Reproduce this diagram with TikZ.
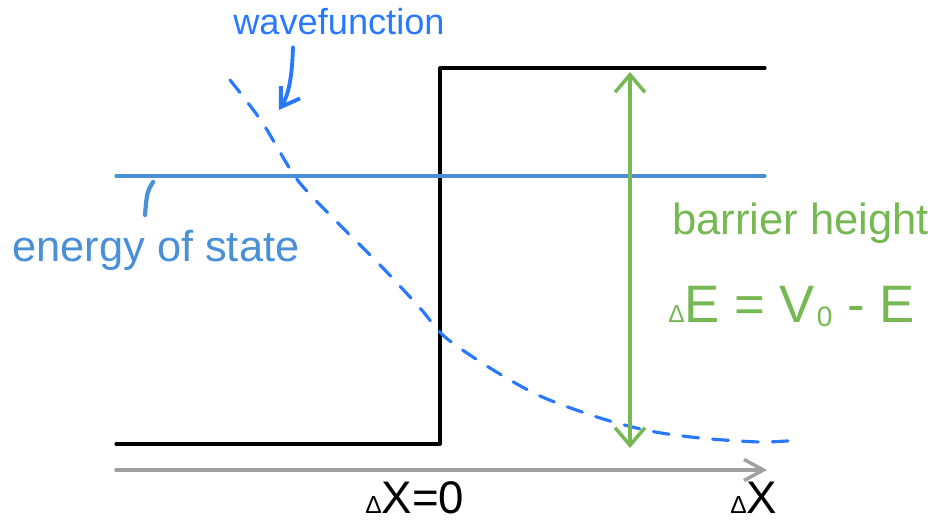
\documentclass[tikz,border=0pt]{standalone}
\usepackage{fontspec}
\setmainfont{Liberation Sans}
\usetikzlibrary{arrows.meta}
\definecolor{statecol}{RGB}{74,144,217}
\definecolor{wavecol}{RGB}{41,121,255}
\definecolor{barriercol}{RGB}{118,184,82}
\definecolor{axiscol}{RGB}{160,160,160}
\begin{document}
\begin{tikzpicture}[x=0.02cm,y=-0.02cm,line cap=round,line join=round,
  thick line/.style={line width=1.8pt},
  lbl/.style={inner sep=0pt,anchor=base west}]
  \useasboundingbox (0,0) rectangle (933,526);
  % potencial: escalon
  \coordinate (L) at (116,444);
  \coordinate (S) at (440,444);
  \coordinate (T) at (440,68);
  \coordinate (R) at (765,68);
  \draw[thick line] (L)--(S)--(T)--(R);
  % nivel de energia del estado
  \coordinate (E1) at (116,176);
  \coordinate (E2) at (765,176);
  \draw[statecol,thick line] (E1)--(E2);
  \node[lbl,statecol,font=\fontsize{24.7}{28}\selectfont] (state) at (12,262) {energy of state};
  \coordinate (s1) at (153,182);
  \coordinate (s2) at (145,215);
  \draw[statecol,line width=2.4pt] (s1) .. controls (147,192) .. (s2);
  % funcion de onda (discontinua)
  \draw[wavecol,line width=1.8pt,dash pattern=on 9pt off 8pt] plot[smooth] coordinates
    {(230,80) (262,122) (296,178) (330,215) (380,265) (420,308) (445,337) (490,368)
     (540,396) (600,418) (650,431) (700,438) (760,442) (800,440)};
  \node[lbl,wavecol,font=\fontsize{20.6}{24}\selectfont] (wave) at (233,35) {wavefunction};
  \coordinate (w1) at (293,47);
  \coordinate (w2) at (279,110);
  \draw[wavecol,line width=2.2pt,-{Straight Barb[length=10pt,width=13pt]}] (w1) .. controls (292,80) and (288,96) .. (w2);
  % altura de la barrera
  \coordinate (B1) at (630,72);
  \coordinate (B2) at (630,448);
  \draw[barriercol,line width=2pt,{Straight Barb[length=10pt,width=17pt]}-{Straight Barb[length=10pt,width=17pt]}] (B1)--(B2);
  \node[lbl,barriercol,font=\fontsize{24.8}{28}\selectfont] (height) at (672,235) {barrier height};
  \node[lbl,barriercol,font=\fontsize{30}{34}\selectfont] (dE) at (668,323)
    {{\fontsize{14}{14}\selectfont Δ}E = V\kern1pt\raisebox{-2pt}{\fontsize{16}{16}\selectfont 0} - E};
  % eje
  \coordinate (X1) at (116,470);
  \coordinate (X2) at (767,470);
  \draw[axiscol,line width=2pt,-{Straight Barb[length=11pt,width=12pt]}] (X1)--(X2);
  \node[lbl,font=\fontsize{26}{30}\selectfont] (x0) at (365,514) {{\fontsize{14}{14}\selectfont Δ}X=0};
  \node[lbl,font=\fontsize{26}{30}\selectfont] (xx) at (730,514) {{\fontsize{14}{14}\selectfont Δ}X};
\end{tikzpicture}
\end{document}
